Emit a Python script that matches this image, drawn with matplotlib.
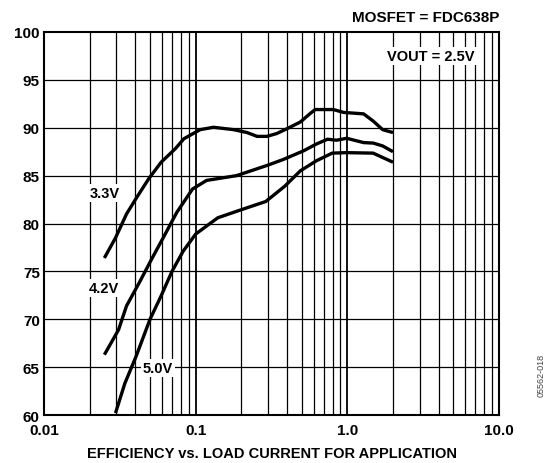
#!/usr/bin/env python3
# Efficiency vs load current, FDC638P, VOUT = 2.5V

import matplotlib.pyplot as plt
import numpy as np

plt.rcParams['font.family'] = ['Liberation Sans', 'DejaVu Sans']
plt.rcParams['font.weight'] = 'bold'

# load current (A) and efficiency (%)
i_33 = [0.025, 0.0296, 0.035, 0.0404, 0.0489, 0.0592, 0.0733, 0.0836, 0.107, 0.131, 0.178,
        0.218, 0.254, 0.295, 0.343, 0.40, 0.49, 0.57, 0.614, 0.81, 0.944, 1.28, 1.48, 1.71, 2.0]
eff_33 = [76.4, 78.5, 81.0, 82.6, 84.65, 86.4, 87.8, 88.85, 89.8, 90.05, 89.8,
          89.5, 89.1, 89.1, 89.4, 89.9, 90.6, 91.5, 91.9, 91.9, 91.6, 91.45, 90.7, 89.8, 89.5]

i_42 = [0.025, 0.031, 0.035, 0.0424, 0.0513, 0.062, 0.075, 0.0953, 0.118, 0.186, 0.30,
        0.38, 0.516, 0.625, 0.74, 0.85, 0.99, 1.28, 1.48, 1.71, 2.0]
eff_42 = [66.3, 68.9, 71.4, 73.8, 76.3, 78.7, 81.15, 83.6, 84.5, 85.0, 86.1,
          86.7, 87.6, 88.3, 88.8, 88.7, 88.9, 88.45, 88.4, 88.1, 87.5]

i_50 = [0.0296, 0.0341, 0.0404, 0.050, 0.059, 0.0698, 0.0826, 0.1, 0.14, 0.205, 0.29,
        0.387, 0.49, 0.625, 0.795, 0.99, 1.48, 2.0]
eff_50 = [60.2, 63.3, 66.1, 70.0, 72.4, 75.0, 77.1, 78.9, 80.6, 81.5, 82.3,
          83.9, 85.5, 86.55, 87.35, 87.4, 87.35, 86.4]

fig = plt.figure(figsize=(5.51, 4.64), dpi=100)
ax = fig.add_axes((0.0799, 0.1034, 0.8257, 0.8255))

for x, y in [(i_33, eff_33), (i_42, eff_42), (i_50, eff_50)]:
    ax.plot(x, y, color='black', lw=2.4, solid_capstyle='butt', zorder=3)

ax.set_xscale('log')
ax.set_xlim(0.01, 10)
ax.set_ylim(60, 100)

# grid: every minor decade line plus 5% steps
for dec in [0.01, 0.1, 1.0]:
    for k in range(2, 10):
        ax.axvline(dec * k, color='black', lw=0.9, zorder=1)
for dec in [0.1, 1.0]:
    ax.axvline(dec, color='black', lw=1.3, zorder=1)
for yv in range(65, 100, 5):
    ax.axhline(yv, color='black', lw=0.9, zorder=1)

ax.set_xticks([0.01, 0.1, 1.0, 10.0])
ax.set_xticklabels(['0.01', '0.1', '1.0', '10.0'])
ax.xaxis.set_minor_locator(plt.NullLocator())
ax.set_yticks(range(60, 101, 5))
ax.tick_params(length=0, labelsize=11)
ax.tick_params(axis='x', pad=6)
ax.tick_params(axis='y', pad=3)
for s in ax.spines.values():
    s.set_linewidth(1.5)

bbox = dict(facecolor='white', edgecolor='none', pad=1.5)
ax.text(0.025, 83.2, '3.3V', fontsize=10.5, ha='center', va='center', bbox=bbox, zorder=4)
ax.text(0.025, 73.3, '4.2V', fontsize=10.5, ha='center', va='center', bbox=bbox, zorder=4)
ax.text(0.0563, 64.9, '5.0V', fontsize=10.5, ha='center', va='center', bbox=bbox, zorder=4)
ax.text(3.56, 97.5, 'VOUT = 2.5V', fontsize=10.5, ha='center', va='center', bbox=bbox, zorder=4)

ax.set_title('MOSFET = FDC638P', loc='right', fontsize=11, fontweight='bold', pad=8)
ax.set_xlabel('EFFICIENCY vs. LOAD CURRENT FOR APPLICATION', fontsize=10.5, fontweight='bold',
              labelpad=6)
fig.text(0.982, 0.19, '05562-018', rotation=90, fontsize=6.5, fontweight='normal',
         color='#444444', ha='center', va='center')

fig.savefig('out.png', dpi=100)
